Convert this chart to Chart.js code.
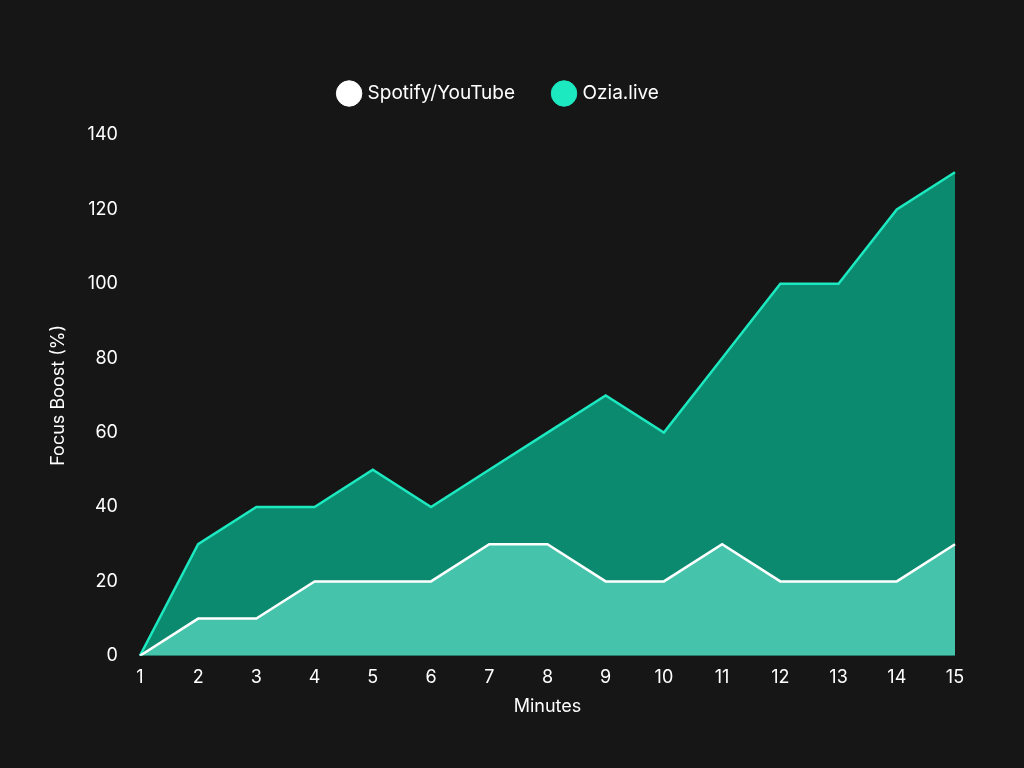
<!DOCTYPE html>
<html>
<head>
<script src="https://cdn.jsdelivr.net/npm/chart.js"></script>
<style>
  html, body { margin: 0; background: #161616; }
  #wrap { width: 1024px; height: 768px; }
</style>
</head>
<body>
<div id="wrap"><canvas id="focusChart"></canvas></div>
<script>
const minutes = ['1', '2', '3', '4', '5', '6', '7', '8', '9', '10', '11', '12', '13', '14', '15'];
const spotifyValues = [0, 10, 10, 20, 20, 20, 30, 30, 20, 20, 30, 20, 20, 20, 30];
const oziaValues = [0, 30, 40, 40, 50, 40, 50, 60, 70, 60, 80, 100, 100, 120, 130];

Chart.defaults.font.family = 'Inter, "Open Sans", sans-serif';
Chart.defaults.color = '#ffffff';

const ctx = document.getElementById('focusChart').getContext('2d');

// taller legend box so the plot starts lower
const legendSpacer = {
    id: 'legendSpacer',
    beforeInit(chart) {
        const fit = chart.legend.fit;
        chart.legend.fit = function () {
            fit.bind(chart.legend)();
            this.height += 22;
        };
    }
};

// Spotify first so it is drawn on top of Ozia
const focusChart = new Chart(ctx, {
    type: 'line',
    data: {
        labels: minutes,
        datasets: [{
            label: 'Spotify/YouTube',
            data: spotifyValues,
            backgroundColor: '#45c4ab',
            borderColor: '#ffffff',
            borderWidth: 2.5,
            pointRadius: 0,
            fill: 'origin'
        }, {
            label: 'Ozia.live',
            data: oziaValues,
            backgroundColor: '#0b8a70',
            borderColor: '#1de9c0',
            borderWidth: 2.5,
            pointRadius: 0,
            fill: 'origin'
        }]
    },
    options: {
        responsive: true,
        maintainAspectRatio: false,
        animation: false,
        layout: { padding: { left: 44, right: 69, top: 44, bottom: 47 } },
        plugins: {
            legend: {
                labels: {
                    usePointStyle: true,
                    pointStyle: 'circle',
                    boxWidth: 18,
                    boxHeight: 18,
                    padding: 40,
                    font: { size: 19 },
                    generateLabels: chart => chart.data.datasets.map((d, i) => ({
                        text: d.label,
                        fillStyle: i === 0 ? '#ffffff' : '#1de9c0',
                        strokeStyle: i === 0 ? '#ffffff' : '#1de9c0',
                        fontColor: '#ffffff',
                        pointStyle: 'circle',
                        datasetIndex: i
                    }))
                }
            },
            tooltip: { enabled: false }
        },
        scales: {
            x: {
                grid: { display: false },
                border: { display: false },
                ticks: { font: { size: 18 } },
                title: { display: true, text: 'Minutes', font: { size: 18 } }
            },
            y: {
                min: 0,
                max: 140,
                grid: { display: false },
                border: { display: false },
                ticks: { stepSize: 20, font: { size: 18 }, padding: 14 },
                title: { display: true, text: 'Focus Boost (%)', font: { size: 18 } }
            }
        }
    },
    plugins: [legendSpacer]
});
</script>
</body>
</html>
